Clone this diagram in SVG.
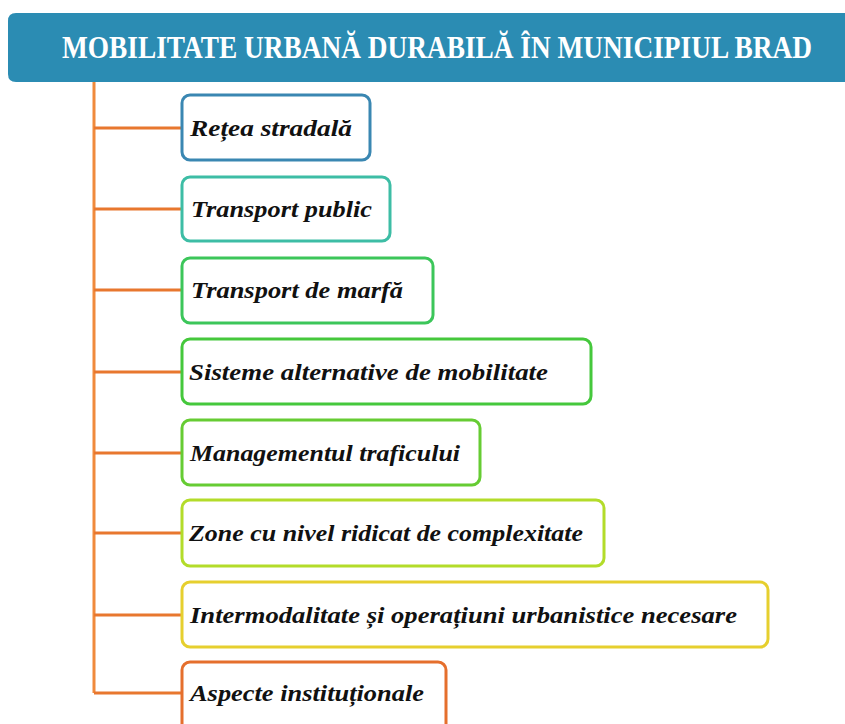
<svg xmlns="http://www.w3.org/2000/svg" width="845" height="724" viewBox="0 0 845 724">
<style>
.box{fill:#fff;stroke-width:3}
.lbl{font-family:"Liberation Serif",serif;font-weight:bold;font-style:italic;font-size:23px;fill:#111}
.br{stroke:#e8772e;stroke-width:3;fill:none}
</style>
<rect width="845" height="724" fill="#fff"/>
<g id="header">
<path d="M16 13 H845 V82 H16 Q8 82 8 74 V21 Q8 13 16 13 Z" fill="#2b8cb3"/>
<text transform="translate(62,58) scale(0.87,1)" x="0" y="0" font-family="Liberation Serif, serif" font-weight="bold" font-size="32" fill="#fff" textLength="862" lengthAdjust="spacingAndGlyphs">MOBILITATE URBANĂ DURABILĂ ÎN MUNICIPIUL BRAD</text>
</g>
<g id="connectors">
<line x1="94" y1="82" x2="94" y2="693" stroke="#f08a3c" stroke-width="3"/>
<path class="br" d="M94 128H182M94 209H182M94 290H182M94 372H182M94 453H182M94 533H182M94 615H182M94 693H182"/>
</g>
<g id="n1"><rect class="box" x="182" y="95" width="188" height="65" rx="8" stroke="#3a87b2"/><text class="lbl" x="190" y="136" textLength="162" lengthAdjust="spacingAndGlyphs">Rețea stradală</text></g>
<g id="n2"><rect class="box" x="182" y="177" width="208" height="64" rx="8" stroke="#3dbda5"/><text class="lbl" x="191" y="217" textLength="181" lengthAdjust="spacingAndGlyphs">Transport public</text></g>
<g id="n3"><rect class="box" x="182" y="258" width="251" height="65" rx="8" stroke="#3cc65a"/><text class="lbl" x="191" y="298" textLength="212" lengthAdjust="spacingAndGlyphs">Transport de marfă</text></g>
<g id="n4"><rect class="box" x="182" y="339" width="409" height="65" rx="8" stroke="#45c83c"/><text class="lbl" x="189" y="380" textLength="359" lengthAdjust="spacingAndGlyphs">Sisteme alternative de mobilitate</text></g>
<g id="n5"><rect class="box" x="182" y="420" width="298" height="65" rx="8" stroke="#66cc33"/><text class="lbl" x="190" y="461" textLength="270" lengthAdjust="spacingAndGlyphs">Managementul traficului</text></g>
<g id="n6"><rect class="box" x="182" y="500" width="422" height="66" rx="8" stroke="#b3dc2a"/><text class="lbl" x="189" y="541" textLength="394" lengthAdjust="spacingAndGlyphs">Zone cu nivel ridicat de complexitate</text></g>
<g id="n7"><rect class="box" x="182" y="582" width="586" height="65" rx="8" stroke="#e6cf2e"/><text class="lbl" x="190" y="623" textLength="547" lengthAdjust="spacingAndGlyphs">Intermodalitate și operațiuni urbanistice necesare</text></g>
<g id="n8"><rect class="box" x="182" y="662" width="264" height="70" rx="8" stroke="#e56f2d"/><text class="lbl" x="190" y="701" textLength="234" lengthAdjust="spacingAndGlyphs">Aspecte instituționale</text></g>
</svg>
